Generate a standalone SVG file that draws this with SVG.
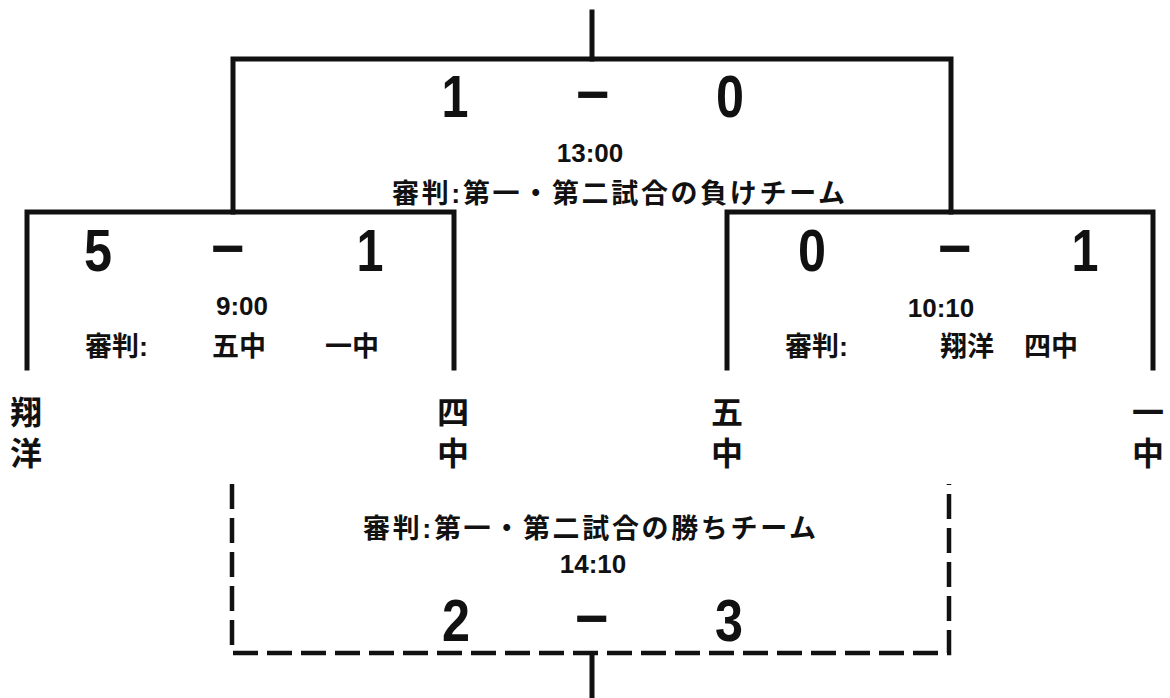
<svg xmlns="http://www.w3.org/2000/svg" width="1170" height="698" viewBox="0 0 1170 698">
<style>
.ln{fill:none;stroke:#111;stroke-width:5;stroke-linecap:square;stroke-linejoin:miter}
.dash{fill:none;stroke:#111;stroke-width:4.5;stroke-dasharray:25 9}
.score{font-family:"Liberation Sans",Arial,sans-serif;font-size:60px;font-weight:bold;fill:#111;text-anchor:middle}
.minus{font-family:"Liberation Sans",Arial,sans-serif;font-size:58px;font-weight:bold;fill:#111;text-anchor:middle}
.time{font-family:"Liberation Sans",Arial,sans-serif;font-size:26px;font-weight:bold;fill:#111;text-anchor:middle}
.jp{font-family:"Liberation Sans","Noto Sans CJK JP",sans-serif;font-size:27px;font-weight:bold;fill:#111}
.team{font-family:"Noto Sans CJK JP",sans-serif;font-size:32px;font-weight:bold;fill:#111;writing-mode:vertical-rl;letter-spacing:9px}
</style>
<rect width="1170" height="698" fill="#fff"/>
<g id="connectors">
  <path class="ln" d="M592 12 V59"/>
  <path class="ln" d="M233 212 V59 H951 V212"/>
  <path class="ln" d="M27 368 V212 H454 V368"/>
  <path class="ln" d="M727 368 V212 H1153 V368"/>
  <path class="dash" d="M232 484 V653 H949 V484"/>
  <path class="ln" d="M592 655 V698"/>
</g>
<g id="match-final-lower">
  <text class="score" x="455" y="117" textLength="27" lengthAdjust="spacingAndGlyphs">1</text>
  <text class="minus" x="593" y="114">−</text>
  <text class="score" x="730" y="117" textLength="28" lengthAdjust="spacingAndGlyphs">0</text>
  <text class="time" x="590" y="162">13:00</text>
  <text class="jp" x="392" y="203" textLength="453" lengthAdjust="spacing">審判:第一・第二試合の負けチーム</text>
</g>
<g id="match-1">
  <text class="score" x="98" y="271" textLength="28" lengthAdjust="spacingAndGlyphs">5</text>
  <text class="minus" x="228" y="268">−</text>
  <text class="score" x="370" y="271" textLength="27" lengthAdjust="spacingAndGlyphs">1</text>
  <text class="time" x="242" y="315">9:00</text>
  <text class="jp" x="85" y="356">審判:</text>
  <text class="jp" x="212" y="356">五中</text>
  <text class="jp" x="325" y="356">一中</text>
</g>
<g id="match-2">
  <text class="score" x="812" y="271" textLength="28" lengthAdjust="spacingAndGlyphs">0</text>
  <text class="minus" x="955" y="268">−</text>
  <text class="score" x="1085" y="271" textLength="27" lengthAdjust="spacingAndGlyphs">1</text>
  <text class="time" x="941" y="317">10:10</text>
  <text class="jp" x="785" y="356">審判:</text>
  <text class="jp" x="940" y="356">翔洋</text>
  <text class="jp" x="1024" y="356">四中</text>
</g>
<g id="match-final-upper">
  <text class="jp" x="363" y="538" textLength="453" lengthAdjust="spacing">審判:第一・第二試合の勝ちチーム</text>
  <text class="time" x="593" y="573">14:10</text>
  <text class="score" x="456" y="641" textLength="28" lengthAdjust="spacingAndGlyphs">2</text>
  <text class="minus" x="592" y="638">−</text>
  <text class="score" x="729" y="641" textLength="28" lengthAdjust="spacingAndGlyphs">3</text>
</g>
<g id="team-shoyo">
  <text class="team" x="26" y="396">翔洋</text>
</g>
<g id="team-yonchu">
  <text class="team" x="453" y="396">四中</text>
</g>
<g id="team-gochu">
  <text class="team" x="727" y="396">五中</text>
</g>
<g id="team-icchu">
  <text class="team" x="1148" y="396">一中</text>
</g>
</svg>
